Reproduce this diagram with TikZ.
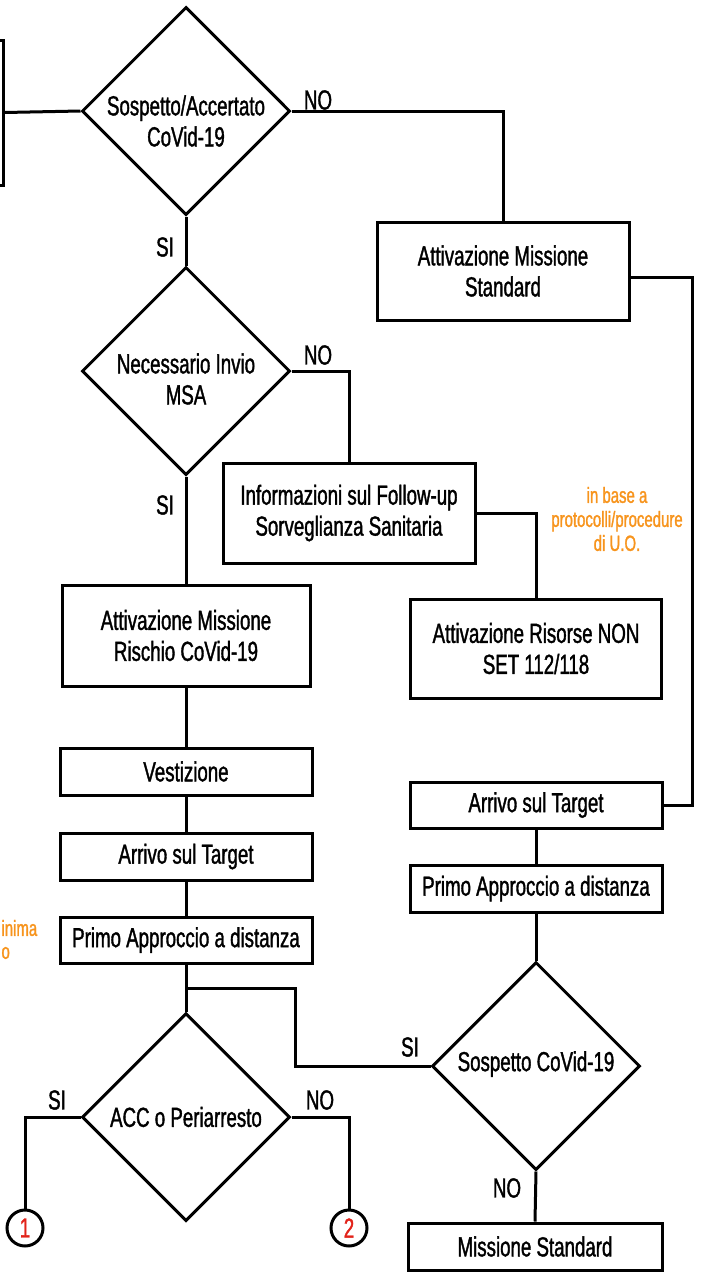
\documentclass[tikz,border=0pt]{standalone}
\usepackage{fontspec}
\setmainfont{Liberation Sans}[FakeStretch=0.68,FakeBold=1.3]
\usetikzlibrary{shapes.geometric}
\definecolor{org}{HTML}{F7941D}
\definecolor{rd}{HTML}{E2231A}
\begin{document}
\begin{tikzpicture}[x=1pt,y=-1pt,
  line width=3pt,
  every node/.style={font=\fontsize{27.5}{31}\selectfont},
  box/.style={draw,rectangle,minimum width=252pt,align=center,inner sep=0pt},
  dia/.style={draw,diamond,minimum width=208pt,minimum height=208pt,inner sep=0pt},
  txt/.style={align=center,inner sep=0pt},
  lbl/.style={inner sep=0pt},
  note/.style={text=org,align=center,inner sep=0pt,font=\fontsize{22}{24}\selectfont},
  circ/.style={draw,circle,minimum size=36pt,inner sep=0pt,text=rd}]
\useasboundingbox (0,0) rectangle (701,1272);
\clip (0,0) rectangle (701,1272);
% nodes
\node[box,minimum width=66pt,minimum height=145pt] (lb) at (-30,112.5) {};
\node[dia] (d1) at (186,111) {};
\node[txt] (t1) at (186,121) {Sospetto/Accertato\\CoVid-19};
\node[box,minimum height=98pt] (std) at (503,271) {Attivazione Missione\\Standard};
\node[dia] (d2) at (186,371) {};
\node[txt] (t2) at (186,379) {Necessario Invio\\MSA};
\node[box,minimum height=100pt] (fu) at (349,513) {Informazioni sul Follow-up\\Sorveglianza Sanitaria};
\node[box,minimum width=251pt,minimum height=99pt] (ris) at (536,648.5) {Attivazione Risorse NON\\SET 112/118};
\node[box,minimum width=248pt,minimum height=101pt] (rischio) at (186,635.5) {Attivazione Missione\\Rischio CoVid-19};
\node[box,minimum height=47pt] (vest) at (186,771.5) {Vestizione};
\node[box,minimum height=47pt] (arr1) at (186,856.5) {Arrivo sul Target};
\node[box,minimum height=46pt] (pri1) at (186,940) {Primo Approccio a distanza};
\node[box,minimum height=46pt] (arr2) at (536,805) {Arrivo sul Target};
\node[box,minimum height=47pt] (pri2) at (536,888.5) {Primo Approccio a distanza};
\node[dia] (d3) at (186,1117) {};
\node[txt] (t3) at (186,1117) {ACC o Periarresto};
\node[dia] (d4) at (536,1066) {};
\node[txt] (t4) at (536,1064) {Sospetto CoVid-19};
\node[box,minimum width=254pt,minimum height=47pt] (ms) at (535,1246.5) {Missione Standard};
\node[circ] (c1) at (25,1228) {1};
\node[circ] (c2) at (349,1228) {2};
% notes
\node[note] (n1) at (617,519) {in base a\\protocolli/procedure\\di U.O.};
\node[note,anchor=west] (n2) at (0,928) {inima};
\node[note,anchor=west] (n3) at (0,953) {o};
% labels
\node[lbl] (l1) at (318,100) {NO};
\node[lbl] (l2) at (165,247) {SI};
\node[lbl] (l3) at (318,355) {NO};
\node[lbl] (l4) at (165,505) {SI};
\node[lbl] (l5) at (410,1047) {SI};
\node[lbl] (l6) at (57,1100) {SI};
\node[lbl] (l7) at (320,1100) {NO};
\node[lbl] (l8) at (507,1188) {NO};
% helper coordinates
\coordinate (rc) at (692,277);
\coordinate (br) at (186,988);
\coordinate (bk) at (295,1066);
% connectors
\draw (lb.east) -- (d1.west);
\draw (d1.east) -| (std.north);
\draw (d1.south) -- (d2.north);
\draw (std.east |- rc) -- (rc) -- (rc |- arr2.east) -- (arr2.east);
\draw (d2.east) -| (fu.north);
\draw (fu.east) -| (ris.north);
\draw (d2.south) -- (rischio.north);
\draw (rischio.south) -- (vest.north);
\draw (vest.south) -- (arr1.north);
\draw (arr1.south) -- (pri1.north);
\draw (pri1.south) -- (d3.north);
\draw (br) -| (bk) -- (d4.west);
\draw (d3.west) -| (c1.north);
\draw (d3.east) -| (c2.north);
\draw (arr2.south) -- (pri2.north);
\draw (pri2.south) -- (d4.north);
\draw (d4.south) -- (ms.north);
\end{tikzpicture}
\end{document}
